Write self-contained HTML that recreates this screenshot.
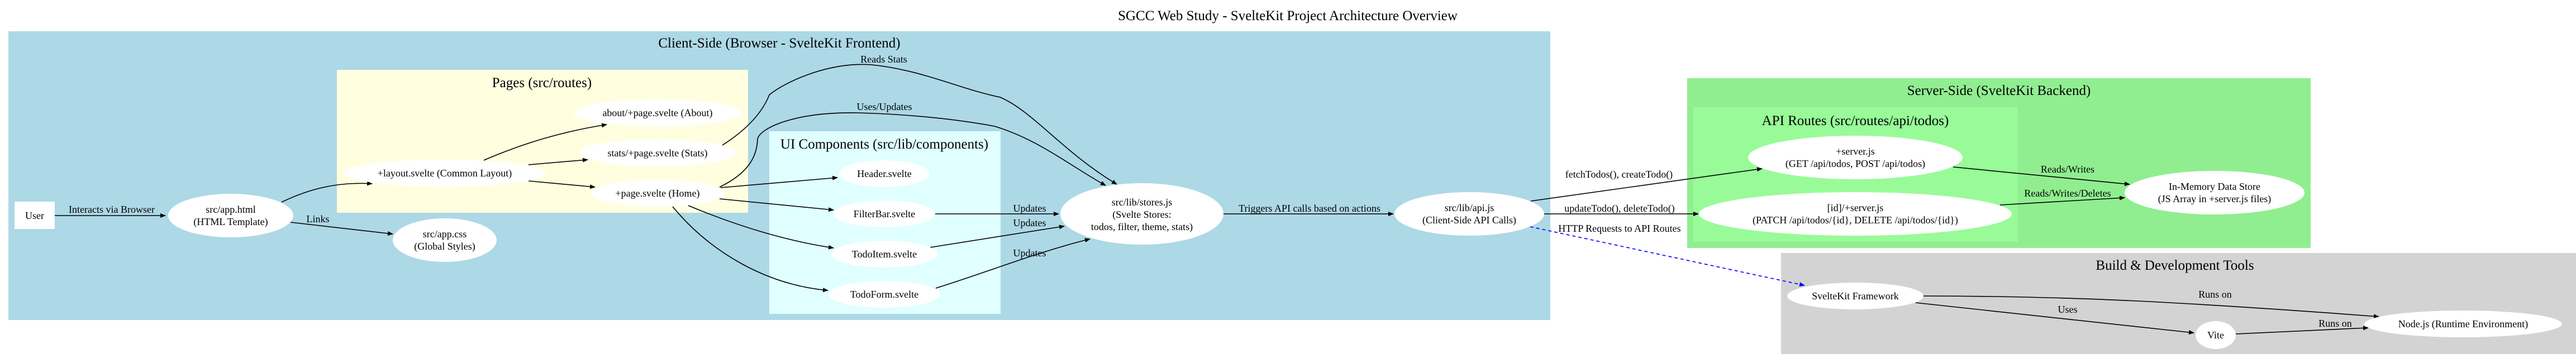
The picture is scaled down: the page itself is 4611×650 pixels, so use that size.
<!DOCTYPE html>
<html><head><meta charset="utf-8"><style>
html,body{margin:0;padding:0;background:#fff;}
svg{display:block;}
text{font-family:"Liberation Serif","Times New Roman",serif;fill:#000;}
.n{font-size:18px;text-anchor:middle;}
.l{font-size:18px;text-anchor:middle;}
.c{font-size:25px;text-anchor:middle;}
.e{fill:none;stroke:#000;stroke-width:1.6;}
</style></head><body>
<svg width="4611" height="650" viewBox="0 0 4611 650" xmlns="http://www.w3.org/2000/svg">
<defs>
<marker id="a" markerWidth="10" markerHeight="8" refX="9" refY="4" orient="auto" markerUnits="userSpaceOnUse" viewBox="0 0 10 8"><path d="M0,0 L10,4 L0,8 z" fill="#000"/></marker>
<marker id="b" markerWidth="10" markerHeight="8" refX="9" refY="4" orient="auto" markerUnits="userSpaceOnUse" viewBox="0 0 10 8"><path d="M0,0 L10,4 L0,8 z" fill="#00f"/></marker>
</defs>
<rect width="4611" height="650" fill="#fff"/>
<text class="c" x="2305" y="36">SGCC Web Study - SvelteKit Project Architecture Overview</text>

<!-- clusters -->
<rect x="15" y="56" width="2760" height="517" fill="#add8e6"/>
<text class="c" x="1395" y="85">Client-Side (Browser - SvelteKit Frontend)</text>
<rect x="603" y="125" width="736" height="256" fill="#ffffe0"/>
<text class="c" x="970" y="156">Pages (src/routes)</text>
<rect x="1377" y="235" width="414" height="327" fill="#e0ffff"/>
<text class="c" x="1583" y="266">UI Components (src/lib/components)</text>

<rect x="3020" y="140" width="1116" height="304" fill="#90ee90"/>
<text class="c" x="3578" y="170">Server-Side (SvelteKit Backend)</text>
<rect x="3031" y="192" width="581" height="241" fill="#98fb98"/>
<text class="c" x="3321" y="224">API Routes (src/routes/api/todos)</text>

<rect x="3188" y="453" width="1423" height="181" fill="#d3d3d3"/>
<text class="c" x="3893" y="483">Build &amp; Development Tools</text>

<!-- edges -->
<path class="e" d="M98,386 L296,386" marker-end="url(#a)"/>
<text class="l" x="200" y="381">Interacts via Browser</text>
<path class="e" d="M504,362 C550,340 600,325 666,329" marker-end="url(#a)" transform="translate(0,0)"/>
<path class="e" d="M520,398 L703,419" marker-end="url(#a)"/>
<text class="l" x="569" y="398">Links</text>
<path class="e" d="M866,287 C940,255 1010,235 1086,223" marker-end="url(#a)"/>
<path class="e" d="M946,295 L1052,286" marker-end="url(#a)"/>
<path class="e" d="M946,324 L1065,335" marker-end="url(#a)"/>

<!-- Reads Stats -->
<path class="e" d="M1293,260 C1340,230 1365,200 1377,170 C1400,150 1480,110 1560,116 C1650,125 1720,160 1790,174 C1850,200 1900,270 1999,330" marker-end="url(#a)"/>
<text class="l" x="1582" y="112">Reads Stats</text>
<!-- Uses/Updates -->
<path class="e" d="M1288,335 C1340,310 1355,280 1356,249 C1360,230 1420,200 1535,202 C1640,205 1720,215 1780,226 C1860,250 1920,300 1979,332" marker-end="url(#a)"/>
<text class="l" x="1583" y="197">Uses/Updates</text>

<path class="e" d="M1290,336 L1499,318" marker-end="url(#a)"/>
<path class="e" d="M1288,356 L1492,376" marker-end="url(#a)"/>
<path class="e" d="M1232,368 C1320,405 1410,432 1492,444" marker-end="url(#a)"/>
<path class="e" d="M1204,370 C1270,450 1370,510 1482,520" marker-end="url(#a)"/>

<path class="e" d="M1673,383 L1895,383" marker-end="url(#a)"/>
<text class="l" x="1843" y="379">Updates</text>
<path class="e" d="M1665,443 L1905,405" marker-end="url(#a)"/>
<text class="l" x="1843" y="405">Updates</text>
<path class="e" d="M1675,516 C1760,490 1860,450 1951,428" marker-end="url(#a)"/>
<text class="l" x="1843" y="459">Updates</text>

<path class="e" d="M2190,383 L2494,383" marker-end="url(#a)"/>
<text class="l" x="2344" y="379">Triggers API calls based on actions</text>

<path class="e" d="M2740,360 L3154,302" marker-end="url(#a)"/>
<text class="l" x="2898" y="318">fetchTodos(), createTodo()</text>
<path class="e" d="M2764,383 L3040,383" marker-end="url(#a)"/>
<text class="l" x="2899" y="379">updateTodo(), deleteTodo()</text>
<path d="M2739,406 L3230,511" fill="none" stroke="#00f" stroke-width="1.6" stroke-dasharray="6,5" marker-end="url(#b)"/>
<text class="l" x="2899" y="415">HTTP Requests to API Routes</text>

<path class="e" d="M3496,299 L3812,330" marker-end="url(#a)"/>
<text class="l" x="3701" y="309">Reads/Writes</text>
<path class="e" d="M3580,367 L3803,354" marker-end="url(#a)"/>
<text class="l" x="3701" y="352">Reads/Writes/Deletes</text>

<path class="e" d="M3443,530 C3700,530 3900,540 4258,567" marker-end="url(#a)"/>
<text class="l" x="3965" y="533">Runs on</text>
<path class="e" d="M3429,542 L3927,596" marker-end="url(#a)"/>
<text class="l" x="3701" y="560">Uses</text>
<path class="e" d="M4002,598 L4239,587" marker-end="url(#a)"/>
<text class="l" x="4180" y="585">Runs on</text>

<!-- nodes -->
<rect x="26" y="361" width="72" height="49" fill="#fff"/>
<text class="n" x="62" y="392">User</text>
<ellipse cx="413" cy="386" rx="112" ry="39" fill="#fff"/>
<text class="n" x="413" y="381">src/app.html</text>
<text class="n" x="413" y="403">(HTML Template)</text>
<ellipse cx="796" cy="430" rx="93" ry="39" fill="#fff"/>
<text class="n" x="796" y="425">src/app.css</text>
<text class="n" x="796" y="447">(Global Styles)</text>

<ellipse cx="796" cy="310" rx="181" ry="24" fill="#fff"/>
<text class="n" x="796" y="316">+layout.svelte (Common Layout)</text>
<ellipse cx="1177" cy="202" rx="150" ry="24" fill="#fff"/>
<text class="n" x="1177" y="208">about/+page.svelte (About)</text>
<ellipse cx="1177" cy="274" rx="139" ry="24" fill="#fff"/>
<text class="n" x="1177" y="280">stats/+page.svelte (Stats)</text>
<ellipse cx="1177" cy="346" rx="119" ry="24" fill="#fff"/>
<text class="n" x="1177" y="352">+page.svelte (Home)</text>

<ellipse cx="1583" cy="311" rx="81" ry="24" fill="#fff"/>
<text class="n" x="1583" y="317">Header.svelte</text>
<ellipse cx="1583" cy="383" rx="91" ry="24" fill="#fff"/>
<text class="n" x="1583" y="389">FilterBar.svelte</text>
<ellipse cx="1583" cy="455" rx="95" ry="24" fill="#fff"/>
<text class="n" x="1583" y="461">TodoItem.svelte</text>
<ellipse cx="1583" cy="527" rx="100" ry="24" fill="#fff"/>
<text class="n" x="1583" y="533">TodoForm.svelte</text>

<ellipse cx="2044" cy="383" rx="146" ry="55" fill="#fff"/>
<text class="n" x="2044" y="368">src/lib/stores.js</text>
<text class="n" x="2044" y="390">(Svelte Stores:</text>
<text class="n" x="2044" y="412">todos, filter, theme, stats)</text>

<ellipse cx="2630" cy="383" rx="134" ry="39" fill="#fff"/>
<text class="n" x="2630" y="378">src/lib/api.js</text>
<text class="n" x="2630" y="400">(Client-Side API Calls)</text>

<ellipse cx="3321" cy="282" rx="192" ry="39" fill="#fff"/>
<text class="n" x="3321" y="277">+server.js</text>
<text class="n" x="3321" y="299">(GET /api/todos, POST /api/todos)</text>
<ellipse cx="3321" cy="383" rx="280" ry="39" fill="#fff"/>
<text class="n" x="3321" y="378">[id]/+server.js</text>
<text class="n" x="3321" y="400">(PATCH /api/todos/{id}, DELETE /api/todos/{id})</text>
<ellipse cx="3964" cy="345" rx="161" ry="39" fill="#fff"/>
<text class="n" x="3964" y="340">In-Memory Data Store</text>
<text class="n" x="3964" y="362">(JS Array in +server.js files)</text>

<ellipse cx="3321" cy="530" rx="122" ry="24" fill="#fff"/>
<text class="n" x="3321" y="536">SvelteKit Framework</text>
<ellipse cx="3966" cy="600" rx="36" ry="25" fill="#fff"/>
<text class="n" x="3966" y="606">Vite</text>
<ellipse cx="4409" cy="580" rx="177" ry="24" fill="#fff"/>
<text class="n" x="4409" y="586">Node.js (Runtime Environment)</text>
</svg>
</body></html>
